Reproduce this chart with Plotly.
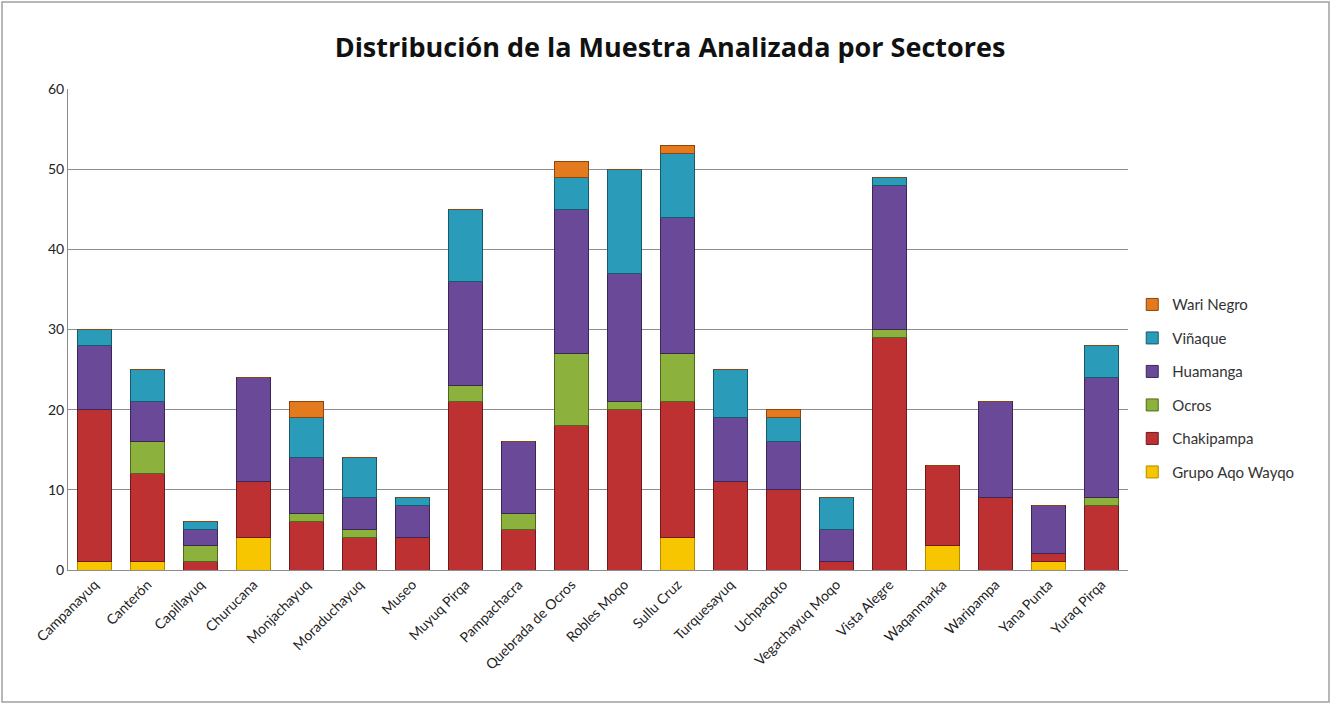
import plotly.graph_objects as go

sectores = ["Campanayuq", "Canterón", "Capillayuq", "Churucana", "Monjachayuq",
            "Moraduchayuq", "Museo", "Muyuq Pirqa", "Pampachacra", "Quebrada de Ocros",
            "Robles Moqo", "Sullu Cruz", "Turquesayuq", "Uchpaqoto", "Vegachayuq Moqo",
            "Vista Alegre", "Waqanmarka", "Waripampa", "Yana Punta", "Yuraq Pirqa"]

grupo_aqo_wayqo = [1, 1, 0, 4, 0, 0, 0, 0, 0, 0, 0, 4, 0, 0, 0, 0, 3, 0, 1, 0]
chakipampa      = [19, 11, 1, 7, 6, 4, 4, 21, 5, 18, 20, 17, 11, 10, 1, 29, 10, 9, 1, 8]
ocros           = [0, 4, 2, 0, 1, 1, 0, 2, 2, 9, 1, 6, 0, 0, 0, 1, 0, 0, 0, 1]
huamanga        = [8, 5, 2, 13, 7, 4, 4, 13, 9, 18, 16, 17, 8, 6, 4, 18, 0, 12, 6, 15]
vinaque         = [2, 4, 1, 0, 5, 5, 1, 9, 0, 4, 13, 8, 6, 3, 4, 1, 0, 0, 0, 4]
wari_negro      = [0, 0, 0, 0, 2, 0, 0, 0, 0, 2, 0, 1, 0, 1, 0, 0, 0, 0, 0, 0]

series = [
    ("Grupo Aqo Wayqo", grupo_aqo_wayqo, "#F7C600", "#B08C00"),
    ("Chakipampa", chakipampa, "#BE3133", "#6E1A1B"),
    ("Ocros", ocros, "#8CB13C", "#4E6A1C"),
    ("Huamanga", huamanga, "#6A4A98", "#3A2756"),
    ("Viñaque", vinaque, "#2A9CBA", "#175A6C"),
    ("Wari Negro", wari_negro, "#E37A1E", "#8A4510"),
]

fig = go.Figure()
n = len(series)
for i, (name, vals, col, lcol) in enumerate(series):
    fig.add_trace(go.Bar(
        x=sectores, y=vals, name=name, legendgroup=name, legendrank=n - i,
        marker=dict(color=col, line=dict(color=lcol, width=1)),
    ))

fig.update_layout(
    barmode="stack",
    bargap=0.36,
    width=1332, height=704,
    paper_bgcolor="white", plot_bgcolor="white",
    margin=dict(l=68, r=204, t=89, b=134),
    font=dict(family="Lato, Open Sans, sans-serif", size=13, color="#222"),
    title=dict(text="<b>Distribución de la Muestra Analizada por Sectores</b>",
               x=0.503, xanchor="center", y=0.933, yanchor="middle",
               font=dict(size=27, color="#111", family="Open Sans, sans-serif")),
    legend=dict(x=1.004, y=0.378, xanchor="left", yanchor="middle",
                traceorder="grouped", tracegroupgap=11,
                font=dict(size=15, color="#333"), itemwidth=30),
    showlegend=True,
)
fig.update_yaxes(range=[0, 60], dtick=10, showgrid=True, gridcolor="#8C8C8C",
                 gridwidth=1, showline=True, linecolor="#8C8C8C", linewidth=1,
                 ticks="", ticklen=0, tickfont=dict(size=14, color="#222"),
                 zeroline=False)
fig.update_xaxes(showline=True, linecolor="#8C8C8C", linewidth=1, tickangle=-45,
                 tickfont=dict(size=14, color="#222"), ticks="")
fig.add_shape(type="rect", xref="paper", yref="paper",
              x0=-66/1060, x1=1261/1060, y0=-132/481, y1=(481+87)/481,
              line=dict(color="#A0A0A0", width=1.5), fillcolor="rgba(0,0,0,0)")

fig.write_html("out.html", config={"displayModeBar": False},
               post_script="document.body.style.margin='0';")
